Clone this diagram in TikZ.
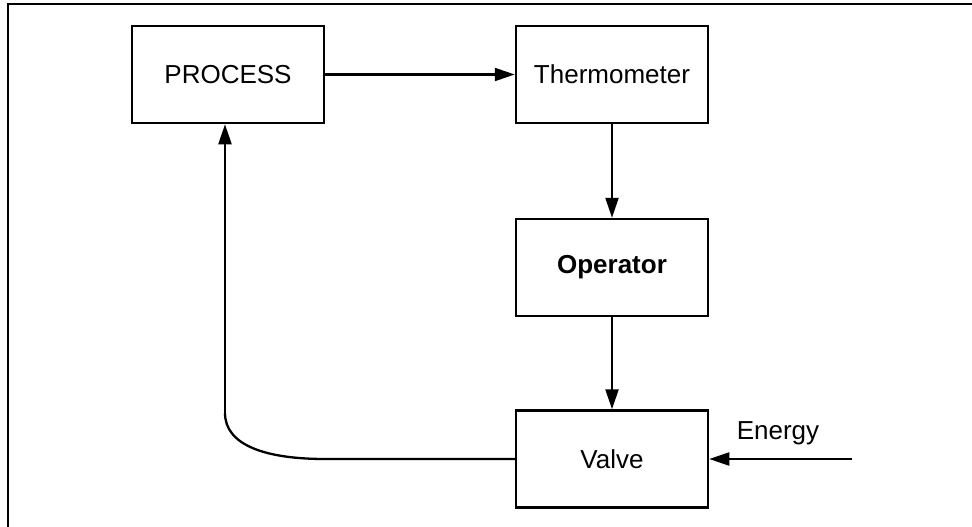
\documentclass[tikz,border=0pt]{standalone}
\usepackage{fontspec}
\setmainfont{Liberation Sans}
\usetikzlibrary{arrows.meta}
\begin{document}
\begin{tikzpicture}[x=1pt,y=-1pt,
  blockbox/.style={draw,line width=2.5pt,minimum width=192pt,minimum height=97pt,inner sep=0pt,font=\fontsize{26}{30}\selectfont},
  conn/.style={line width=2.3pt,-{Triangle[length=20pt,width=13pt]}},
  plainline/.style={line width=2.3pt}]
\useasboundingbox (0,0) rectangle (972,527);
\draw[line width=1.7pt] (972,4) -- (8,4) -- (8,527);
\node[blockbox] (proc) at (228,74.5) {PROCESS};
\node[blockbox] (therm) at (612,74.5) {Thermometer};
\node[blockbox] (oper) at (612,267.5) {\bfseries Operator};
\node[blockbox] (valve) at (612,459) {Valve};
\coordinate (e) at (852,459);
\coordinate (c1) at (325,459);
\coordinate (c2) at (225,413);
\node[font=\fontsize{26}{30}\selectfont,inner sep=0pt] (elabel) at (778,433) {Energy};
\draw[conn] (proc.east) -- (therm.west);
\draw[conn] (therm.south) -- (oper.north);
\draw[conn] (oper.south) -- (valve.north);
\draw[conn] (e) -- (valve.east);
\draw[plainline] (valve.west) -- (c1) .. controls (265,459) and (225,445) .. (c2);
\draw[conn] (c2) -- (c2 |- proc.south);
\end{tikzpicture}
\end{document}
